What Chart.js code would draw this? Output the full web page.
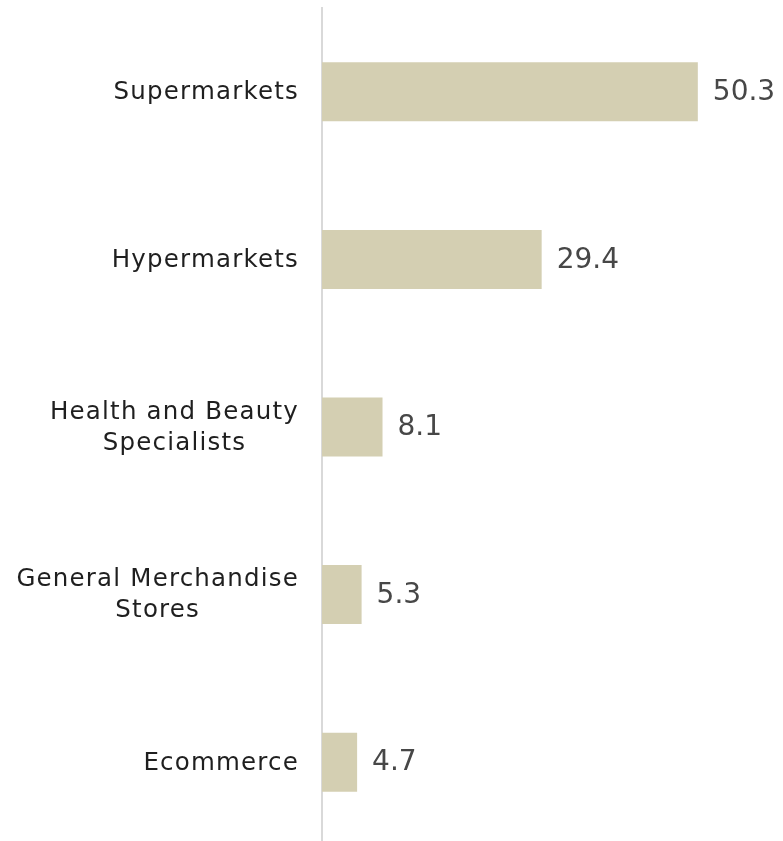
<!DOCTYPE html>
<html>
<head>
<meta charset="utf-8">
<script src="https://cdn.jsdelivr.net/npm/chart.js@4"></script>
<style>
  html, body { margin: 0; padding: 0; background: #fff; overflow: hidden; }
  #wrap { position: relative; width: 783px; height: 846px; }
</style>
</head>
<body>
<div id="wrap"><canvas id="channelChart"></canvas></div>
<script>
// Retail channel shares
const channels = [
    ['Supermarkets'],
    ['Hypermarkets'],
    ['Health and Beauty', 'Specialists'],
    ['General Merchandise', 'Stores'],
    ['Ecommerce']
];
const shares = [50.3, 29.4, 8.1, 5.3, 4.7];

const BAR_COLOR = '#D4CFB2';
const LABEL_FONT = "24.5px 'DejaVu Sans', sans-serif";
const VALUE_FONT = "28px 'DejaVu Sans', sans-serif";

// category names: right-aligned block, lines centred on each other
const categoryLabels = {
    id: 'categoryLabels',
    afterDraw(chart) {
        const ctx = chart.ctx;
        const yScale = chart.scales.y;
        const right = chart.chartArea.left - 23;
        const lineH = 31;
        ctx.save();
        ctx.font = LABEL_FONT;
        ctx.letterSpacing = '1.2px';
        ctx.fillStyle = '#1f1f1f';
        ctx.textAlign = 'center';
        ctx.textBaseline = 'middle';
        channels.forEach((lines, i) => {
            const y = yScale.getPixelForValue(i) + 1;
            const w = Math.max(...lines.map(l => ctx.measureText(l).width));
            const cx = right - w / 2;
            const y0 = y - (lines.length - 1) * lineH / 2;
            lines.forEach((l, j) => ctx.fillText(l, cx, y0 + j * lineH));
        });
        ctx.restore();
    }
};

// value text at the end of each bar
const valueLabels = {
    id: 'valueLabels',
    afterDatasetsDraw(chart) {
        const ctx = chart.ctx;
        const meta = chart.getDatasetMeta(0);
        ctx.save();
        ctx.font = VALUE_FONT;
        ctx.fillStyle = '#474747';
        ctx.textAlign = 'left';
        ctx.textBaseline = 'middle';
        meta.data.forEach((bar, i) => {
            ctx.fillText(shares[i].toFixed(1), bar.x + 15, bar.y + 1);
        });
        ctx.restore();
    }
};

new Chart(document.getElementById('channelChart'), {
    type: 'bar',
    data: {
        labels: channels.map(l => l.join(' ')),
        datasets: [{
            data: shares,
            backgroundColor: BAR_COLOR,
            borderWidth: 0,
            barPercentage: 0.352,
            categoryPercentage: 1
        }]
    },
    options: {
        indexAxis: 'y',
        responsive: true,
        maintainAspectRatio: false,
        animation: false,
        layout: { padding: { top: 8, right: 0, bottom: 0, left: 0 } },
        plugins: {
            legend: { display: false },
            tooltip: { enabled: false }
        },
        scales: {
            x: {
                display: false,
                min: 0,
                max: 61.7
            },
            y: {
                grid: { display: false },
                border: { display: true, color: '#D9D9D9', width: 2 },
                ticks: { display: false },
                afterFit(scale) { scale.width = 322; }
            }
        }
    },
    plugins: [categoryLabels, valueLabels]
});
</script>
</body>
</html>
